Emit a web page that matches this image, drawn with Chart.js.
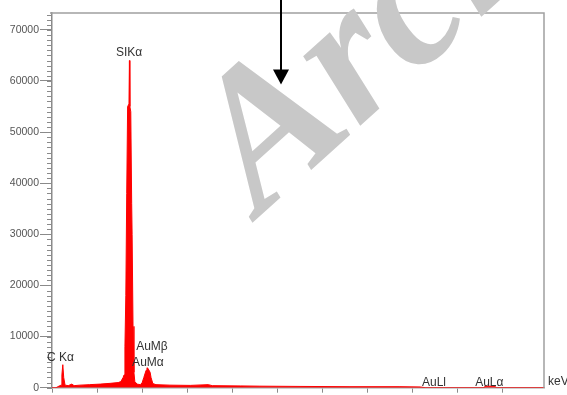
<!DOCTYPE html>
<html lang="pt-br">

<head>
    <meta charset="UTF-8">
    <title>Espectro EDS</title>
    <script src="https://cdn.jsdelivr.net/npm/chart.js"></script>
    <style>
        body { margin: 0; background: white; }
        canvas { display: block; }
    </style>
</head>

<body>
    <canvas id="graficoEds" width="567" height="395"></canvas>
</body>

</html>

<script>
    const energia = [0, 0.09, 0.13, 0.20, 0.22, 0.24, 0.26, 0.29, 0.36, 0.44, 0.49, 0.62, 0.84, 1.07, 1.29, 1.47, 1.53, 1.58, 1.60, 1.62,
        1.64, 1.66, 1.68, 1.71, 1.72, 1.73, 1.75, 1.77, 1.78, 1.80, 1.82, 1.84, 1.89, 1.96, 2.00, 2.04, 2.09, 2.11, 2.13, 2.18,
        2.20, 2.24, 2.31, 2.62, 3.07, 3.47, 3.56, 4.18, 4.62, 5.51, 6.62, 7.73, 8.18, 8.29, 9.60, 9.62, 9.84, 9.87, 10.93];
    const contagens = [0, 0, 200, 500, 2500, 4500, 2000, 500, 400, 700, 400, 500, 600, 700, 850, 1000, 1200, 2000, 2500, 8000,
        18000, 38000, 55000, 55500, 64000, 55000, 54000, 36000, 30000, 12000, 3000, 1200, 700, 600, 900, 2000, 3400, 3900, 3800, 3000,
        2000, 800, 600, 500, 450, 600, 400, 350, 300, 250, 200, 200, 150, 0, 0, 300, 300, 0, 0];

    // marcas dos eixos
    const ticksY = [0, 10000, 20000, 30000, 40000, 50000, 60000, 70000];
    const ticksX = [0, 1, 2, 3, 4, 5, 6, 7, 8, 9, 10];

    // rótulos dos picos (canto esquerdo da linha de base do texto, em keV / contagens)
    const rotulos = ['SIKα', 'C Kα', 'AuMβ', 'AuMα', 'AuLl', 'AuLα', 'keV'];
    const rotulosE = [1.42, -0.11, 1.87, 1.78, 8.22, 9.40, 11.02];
    const rotulosC = [64800, 5250, 7400, 4280, 390, 390, 580];

    // seta preta (keV, contagem da ponta)
    const setaE = 5.09;
    const setaC = 59300;

    const pontos = energia.map(function (e, i) {
        return { x: e, y: contagens[i] };
    });

    // desenha moldura, marcas menores, rótulos, seta e a marca d'água
    const extras = {
        id: 'extras',
        afterDraw: function (chart) {
            const ctx = chart.ctx;
            const area = chart.chartArea;
            const x = chart.scales.x;
            const y = chart.scales.y;

            ctx.save();

            // moldura de cima e da direita
            ctx.strokeStyle = '#a0a0a0';
            ctx.lineWidth = 1.5;
            ctx.beginPath();
            ctx.moveTo(area.left - 2, area.top);
            ctx.lineTo(area.right, area.top);
            ctx.lineTo(area.right, area.bottom);
            ctx.stroke();

            // marcas menores do eixo Y a cada 1000
            ctx.strokeStyle = '#8a8a8a';
            ctx.lineWidth = 1;
            ctx.beginPath();
            for (let v = 0; v <= y.max; v += 1000) {
                const py = Math.round(y.getPixelForValue(v)) + 0.5;
                ctx.moveTo(area.left - 5, py);
                ctx.lineTo(area.left, py);
            }
            ctx.stroke();

            // rótulos dos picos
            ctx.fillStyle = '#333333';
            ctx.font = '12px "Liberation Sans", Arial, sans-serif';
            ctx.textAlign = 'left';
            ctx.textBaseline = 'alphabetic';
            for (let i = 0; i < rotulos.length; i++) {
                ctx.fillText(rotulos[i], x.getPixelForValue(rotulosE[i]), y.getPixelForValue(rotulosC[i]));
            }

            // marca d'água
            ctx.save();
            ctx.translate(260, 216);
            ctx.rotate(-42 * Math.PI / 180);
            ctx.font = 'bold italic 196px "Liberation Serif", serif';
            ctx.fillStyle = '#c8c8c8';
            ctx.fillText('Archive of SID', 0, 0);
            ctx.restore();

            // seta
            const sx = Math.round(x.getPixelForValue(setaE));
            const sy = y.getPixelForValue(setaC);
            ctx.strokeStyle = '#000000';
            ctx.fillStyle = '#000000';
            ctx.lineWidth = 2;
            ctx.beginPath();
            ctx.moveTo(sx, 0);
            ctx.lineTo(sx, sy - 12);
            ctx.stroke();
            ctx.beginPath();
            ctx.moveTo(sx - 8, sy - 15);
            ctx.lineTo(sx + 8, sy - 15);
            ctx.lineTo(sx, sy);
            ctx.closePath();
            ctx.fill();

            ctx.restore();
        }
    };

    const config = {
        type: 'line',
        data: {
            datasets: [{
                data: pontos,
                borderColor: '#ff0000',
                backgroundColor: '#ff0000',
                borderWidth: 1,
                pointRadius: 0,
                tension: 0,
                fill: 'origin'
            }]
        },
        options: {
            responsive: false,
            animation: false,
            devicePixelRatio: 1,
            layout: {
                padding: { top: 13, right: 23, left: 0, bottom: 0 }
            },
            plugins: {
                legend: { display: false },
                tooltip: { enabled: false }
            },
            scales: {
                x: {
                    type: 'linear',
                    min: 0,
                    max: 10.93,
                    afterBuildTicks: function (scale) {
                        scale.ticks = ticksX.map(function (v) { return { value: v }; });
                    },
                    afterFit: function (scale) {
                        scale.height = 5;
                    },
                    ticks: { display: false },
                    grid: {
                        drawOnChartArea: false,
                        drawTicks: true,
                        tickLength: 5,
                        color: '#8a8a8a'
                    },
                    border: { display: true, color: '#a0a0a0', width: 1.5 }
                },
                y: {
                    min: 0,
                    max: 73300,
                    afterBuildTicks: function (scale) {
                        scale.ticks = ticksY.map(function (v) { return { value: v }; });
                    },
                    afterFit: function (scale) {
                        scale.width = 52;
                    },
                    ticks: {
                        color: '#555555',
                        padding: 1,
                        font: { family: '"Liberation Sans", Arial, sans-serif', size: 10.5 },
                        callback: function (valor) {
                            return String(valor);
                        }
                    },
                    grid: {
                        drawOnChartArea: false,
                        drawTicks: true,
                        tickLength: 12,
                        color: '#8a8a8a'
                    },
                    border: { display: true, color: '#8a8a8a', width: 1.5 }
                }
            }
        },
        plugins: [extras]
    };

    let grafico = new Chart(document.getElementById('graficoEds'), config);
</script>
